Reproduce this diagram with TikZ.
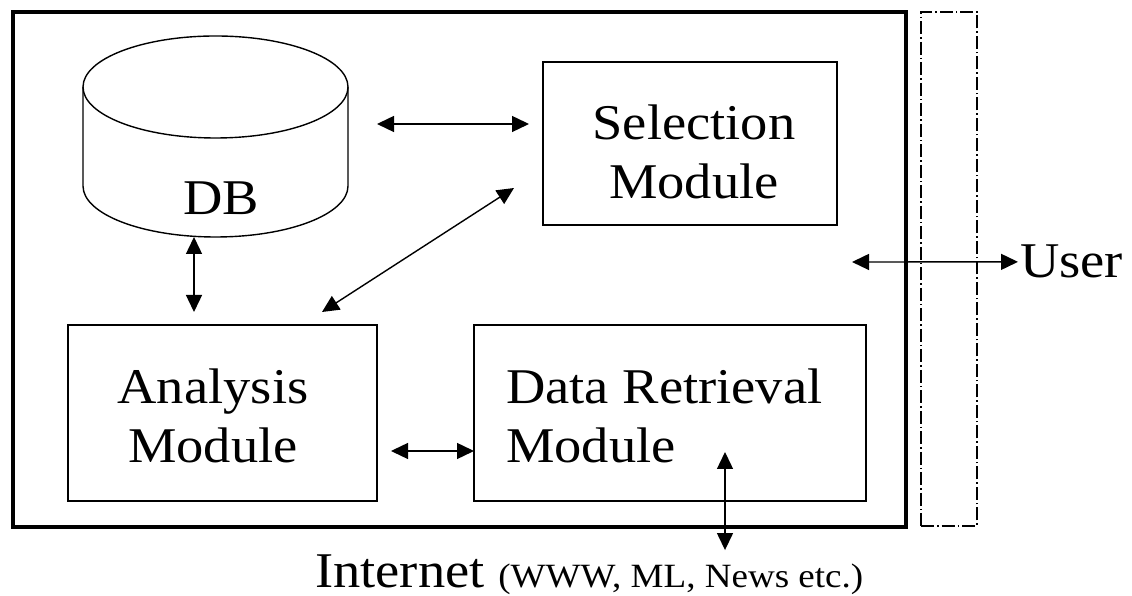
\documentclass[tikz,border=0pt]{standalone}
\usepackage{fontspec}
\setmainfont{Liberation Serif}[FakeStretch=1.09]
\usepackage{tikz}
\usetikzlibrary{arrows.meta,calc,positioning}

\begin{document}
\begin{tikzpicture}[x=1pt,y=1pt,
  modbox/.style={draw,line width=1.3pt,inner sep=0pt,outer sep=0pt},
  modtext/.style={inner sep=0pt,font=\fontsize{50}{59}\selectfont},
  biarrow/.style={line width=1.4pt,{Triangle[length=17pt,width=16pt]}-{Triangle[length=17pt,width=16pt]}}]
\useasboundingbox (0,0) rectangle (1132,596);
\pgfmathsetmacro{\rx}{132.5}
\pgfmathsetmacro{\ry}{51}
\node[draw,line width=4.5pt,minimum width=893pt,minimum height=515pt,inner sep=0pt,outer sep=0pt] (sys) at (459.5,326.5) {};
\node[draw,line width=1.3pt,dash pattern=on 13pt off 3pt on 1.5pt off 3pt,minimum width=56pt,minimum height=514pt,inner sep=0pt] (ui) at (949,327) {};
% database
\node[minimum width=265pt,minimum height=201pt,inner sep=0pt,outer sep=0pt] (db) at (215.5,459.5) {};
\draw[line width=1.4pt] ([yshift=-\ry pt]db.north) ellipse [x radius=\rx, y radius=\ry];
\draw[line width=1.4pt] ([yshift=-\ry pt]db.north west) -- ([yshift=\ry pt]db.south west) arc [start angle=180, end angle=360, x radius=\rx, y radius=\ry] -- ([yshift=-\ry pt]db.north east);
\node[modtext,anchor=base] (dblabel) at (221,381) {DB};
% modules
\node[modbox,minimum width=294pt,minimum height=163pt] (sel) at (690,452.5) {};
\node[modbox,minimum width=309pt,minimum height=176pt] (ana) at (222.5,183) {};
\node[modbox,minimum width=392pt,minimum height=176pt] (ret) at (670,183) {};
\node[modtext,align=center] (seltext) at (694,444) {Selection\\Module};
\node[modtext,align=center] (anatext) at (213,180) {Analysis\\Module};
\node[modtext,align=left,anchor=west] (rettext) at (506,180) {Data Retrieval\\Module};
\node[modtext,anchor=base west] (user) at (1020,318) {User};
\node[modtext,anchor=base west] (inet) at (315,8.5) {Internet {\fontsize{34}{40}\selectfont(WWW, ML, News etc.)}};
% links
\draw[biarrow] ([xshift=29pt,yshift=12.5pt]db.east) -- ([xshift=-14pt,yshift=19.5pt]sel.west);
\draw[biarrow] ([xshift=-21.5pt]db.south) -- ([xshift=-28.5pt,yshift=13pt]ana.north);
\draw[biarrow] ([xshift=-55pt,yshift=13pt]ana.north east) -- ([xshift=-29pt,yshift=37pt]sel.south west);
\draw[biarrow] ([xshift=14pt,yshift=-38pt]ana.east) -- ([yshift=-38pt]ret.west);
\draw[biarrow] ([xshift=-54pt,yshift=7.5pt]sys.east) -- ([xshift=-2pt]user.west);
\draw[biarrow,shorten >=4.5pt] ([xshift=55pt,yshift=49pt]ret.south) -- ([xshift=55pt]ret.south |- inet.north);
\end{tikzpicture}
\end{document}
